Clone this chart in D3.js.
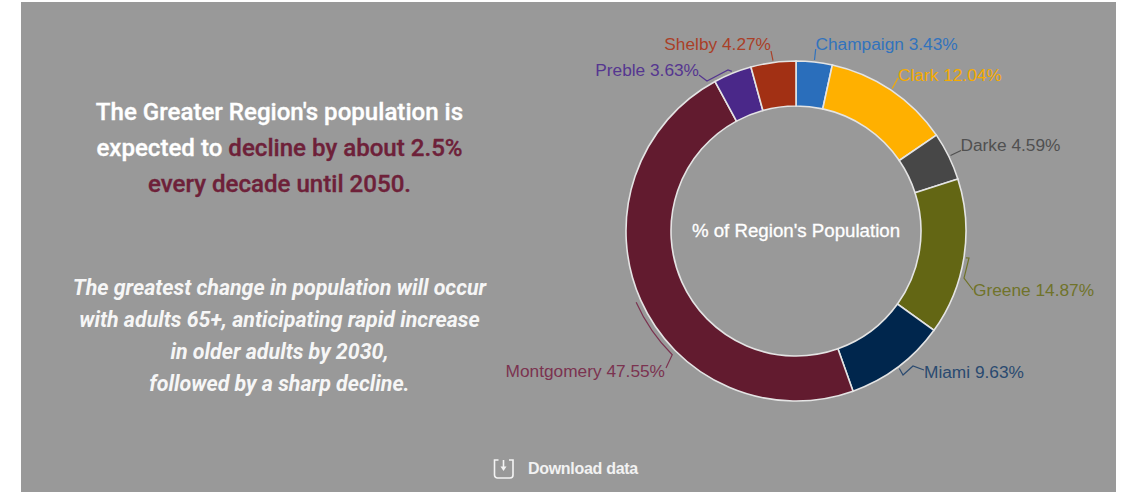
<!DOCTYPE html>
<html>
<head>
<meta charset="utf-8">
<script src="https://cdn.jsdelivr.net/npm/d3@7/dist/d3.min.js"></script>
<style>
html, body { margin: 0; padding: 0; background: #fff; overflow: hidden; }
svg { display: block; }
</style>
</head>
<body>
<svg id="chart" width="1122" height="492"></svg>
<script>
const regions = ['Champaign', 'Clark', 'Darke', 'Greene', 'Miami', 'Montgomery', 'Preble', 'Shelby'];
const shares = [3.43, 12.04, 4.59, 14.87, 9.63, 47.55, 3.63, 4.27];

const sliceColors = ['#2a6ebb', '#ffb000', '#474747', '#636614', '#00264d', '#621b2f', '#4a2889', '#a23014'];
const labelColors = ['#3273bd', '#f5ab00', '#505050', '#70732a', '#2a4a70', '#7b3350', '#553690', '#aa4028'];

const centerTitle = "% of Region's Population";
const downloadLabel = 'Download data';

// headline lines, each one a list of [text, colour] runs
const headline = [
    [["The Greater Region's population is", '#fff']],
    [['expected to ', '#fff'], ['decline by about 2.5%', '#6e2139']],
    [['every decade until 2050.', '#6e2139']]
];
const note = [
    'The greatest change in population will occur',
    'with adults 65+, anticipating rapid increase',
    'in older adults by 2030,',
    'followed by a sharp decline.'
];

// where each outside label ends up, offset from the chart centre
const labelSpots = {
    Champaign: { x: 19.5, y: -181, anchor: 'start', via: [[19.7, -182]] },
    Clark: { x: 102, y: -150, anchor: 'start', via: [[102, -153]] },
    Darke: { x: 164.5, y: -80, anchor: 'start', via: [[165, -80.5]] },
    Greene: { x: 177, y: 65, anchor: 'start', via: [[173, 27], [168, 47], [177, 59]] },
    Miami: { x: 128, y: 146.5, anchor: 'start', via: [[107, 144], [117, 135], [128, 139]] },
    Montgomery: { x: -131, y: 145.5, anchor: 'end', via: [[-130, 137]], sweepTo: 225 },
    Preble: { x: -97, y: -155, anchor: 'end', via: [[-68, -161], [-89, -150], [-97, -156]] },
    Shelby: { x: -25, y: -181, anchor: 'end', via: [[-25, -180]] }
};

const svg = d3.select('#chart');
const cx = 796, cy = 231, outerR = 170, innerR = 125, leadR = 172;

svg.append('rect')
    .attr('x', 21).attr('y', 2)
    .attr('width', 1095).attr('height', 490)
    .attr('fill', '#999');

// left hand text
const headGroup = svg.append('g')
    .attr('font-family', 'Roboto')
    .attr('font-weight', 500)
    .attr('font-size', 24.1)
    .attr('text-anchor', 'middle');
headline.forEach((runs, i) => {
    const t = headGroup.append('text').attr('x', 279.5).attr('y', 120 + i * 36);
    runs.forEach(r => t.append('tspan')
        .attr('fill', r[1])
        .attr('stroke', r[1])
        .attr('stroke-width', 0.35)
        .text(r[0]));
});

svg.append('g')
    .attr('font-family', 'Roboto')
    .attr('font-weight', 700)
    .attr('font-style', 'italic')
    .attr('font-size', 21.4)
    .attr('fill', '#f6f6f6')
    .attr('text-anchor', 'middle')
    .selectAll('text')
    .data(note)
    .join('text')
    .attr('x', 279.5)
    .attr('y', (d, i) => 295 + i * 32)
    .text(d => d);

// donut
const pie = d3.pie().sort(null).value(d => d)(shares);
const arc = d3.arc().innerRadius(innerR).outerRadius(outerR);
const chart = svg.append('g').attr('transform', `translate(${cx},${cy})`);

chart.selectAll('path.slice')
    .data(pie)
    .join('path')
    .attr('class', 'slice')
    .attr('d', arc)
    .attr('fill', (d, i) => sliceColors[i])
    .attr('stroke', '#e4e4e4')
    .attr('stroke-width', 1.6);

chart.append('text')
    .attr('text-anchor', 'middle')
    .attr('y', 6)
    .attr('font-family', 'Liberation Sans')
    .attr('font-size', 18.7)
    .attr('fill', '#fff')
    .attr('stroke', '#fff')
    .attr('stroke-width', 0.3)
    .text(centerTitle);

// leader lines start on the middle of each slice
const onRing = (deg, r) => {
    const a = deg * Math.PI / 180;
    return [r * Math.sin(a), -r * Math.cos(a)];
};

pie.forEach((d, i) => {
    const name = regions[i];
    const spot = labelSpots[name];
    const mid = (d.startAngle + d.endAngle) / 2 * 180 / Math.PI;
    let path;
    if (spot.sweepTo) {
        const r = leadR + 3;
        path = `M${onRing(mid, r)}A${r},${r} 0 0 0 ${onRing(spot.sweepTo, r)}L${spot.via[0]}`;
    } else {
        path = d3.line()([onRing(mid, leadR), ...spot.via]);
    }
    chart.append('path')
        .attr('d', path)
        .attr('fill', 'none')
        .attr('stroke', labelColors[i])
        .attr('stroke-width', 1.2);
    chart.append('text')
        .attr('x', spot.x)
        .attr('y', spot.y)
        .attr('text-anchor', spot.anchor)
        .attr('font-family', 'Liberation Sans')
        .attr('font-size', 17.3)
        .attr('fill', labelColors[i])
        .text(`${name} ${d3.format('.2f')(d.value)}%`);
});

// download link
const dl = svg.append('g').attr('fill', 'none').attr('stroke', '#f4f4f4').attr('stroke-width', 1.6);
dl.append('path').attr('d', 'M498.5,460H494.5V475a3,3 0 0 0 3,3H510a3,3 0 0 0 3,-3V460H509');
dl.append('path').attr('d', 'M503.5,460V468');
svg.append('path').attr('d', 'M500.5,466.5H506.5L503.5,471Z').attr('fill', '#f4f4f4');
svg.append('text')
    .attr('x', 528).attr('y', 474)
    .attr('font-family', 'Liberation Sans')
    .attr('font-weight', 700)
    .attr('font-size', 16)
    .attr('letter-spacing', -0.3)
    .attr('fill', '#f2f2f2')
    .text(downloadLabel);
</script>
</body>
</html>
